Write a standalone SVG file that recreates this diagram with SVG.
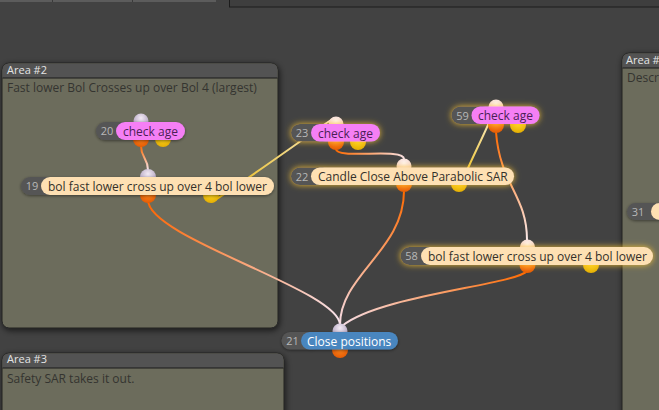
<svg xmlns="http://www.w3.org/2000/svg" width="659" height="410" viewBox="0 0 659 410">
<style>
.area-hdr{fill:#535353}
.area-body{fill:#6c6c5b;stroke:#222222;stroke-width:1}
.area-sep{stroke:#1a1a1a;stroke-width:1.2}
.atitle{font-family:"Open Sans","Noto Sans",sans-serif;font-size:11px;fill:#e4e4e4}
.adesc{font-family:"Open Sans","Noto Sans",sans-serif;font-size:12px;fill:#343430}
.idp{fill:#555555}
.num{font-family:"Open Sans","Noto Sans",sans-serif;font-size:11px;fill:#b8b8b8;text-anchor:middle}
.pink{fill:#f57ff5}
.peach{fill:#fee0b3}
.blue{fill:#4a86bf}
.t{font-family:"Open Sans","Noto Sans",sans-serif;font-size:12px;fill:#33302a}
.tp{fill:#4a1f55}
.tw{fill:#ffffff}
.in{fill:url(#gIn)}
.ins{fill:url(#gInSel)}
.out{fill:url(#gOut)}
.yel{fill:url(#gYel)}
.conn{fill:none;stroke-width:2}
</style>
<defs>
<radialGradient id="gIn" cx="0.5" cy="0.3" r="0.7"><stop offset="0" stop-color="#f2eaf4"/><stop offset="1" stop-color="#a898b8"/></radialGradient>
<radialGradient id="gInSel" cx="0.5" cy="0.3" r="0.7"><stop offset="0" stop-color="#fff4f0"/><stop offset="1" stop-color="#f0c8c0"/></radialGradient>
<radialGradient id="gOut" cx="0.5" cy="0.4" r="0.7"><stop offset="0" stop-color="#ff8a20"/><stop offset="1" stop-color="#e05400"/></radialGradient>
<radialGradient id="gYel" cx="0.5" cy="0.4" r="0.7"><stop offset="0" stop-color="#ffd820"/><stop offset="1" stop-color="#e0a800"/></radialGradient>
<filter id="areaShadow" x="-10%" y="-10%" width="120%" height="120%"><feDropShadow dx="1" dy="2" stdDeviation="3" flood-color="#000" flood-opacity="0.65"/></filter>
<filter id="glow" x="-20%" y="-120%" width="140%" height="340%"><feDropShadow dx="0" dy="0" stdDeviation="3" flood-color="#ffc830" flood-opacity="0.9"/></filter>
<filter id="nshadow" x="-20%" y="-100%" width="140%" height="300%"><feDropShadow dx="0" dy="1" stdDeviation="1.5" flood-color="#000" flood-opacity="0.45"/></filter>
<linearGradient id="c1" gradientUnits="userSpaceOnUse" x1="141" y1="146" x2="148" y2="170"><stop offset="0" stop-color="#ff6a00"/><stop offset="1" stop-color="#f4e4ec"/></linearGradient>
<linearGradient id="c2" gradientUnits="userSpaceOnUse" x1="211" y1="202" x2="334" y2="118"><stop offset="0" stop-color="#e8b400"/><stop offset="1" stop-color="#f8ecd0"/></linearGradient>
<linearGradient id="c3" gradientUnits="userSpaceOnUse" x1="148" y1="200" x2="340" y2="325"><stop offset="0" stop-color="#ff6400"/><stop offset="1" stop-color="#f6e4ee"/></linearGradient>
<linearGradient id="c4" gradientUnits="userSpaceOnUse" x1="336" y1="149" x2="404" y2="159"><stop offset="0" stop-color="#ff6a00"/><stop offset="1" stop-color="#f8e0e0"/></linearGradient>
<linearGradient id="c5" gradientUnits="userSpaceOnUse" x1="404" y1="191" x2="340" y2="325"><stop offset="0" stop-color="#ff6a00"/><stop offset="1" stop-color="#f6dce4"/></linearGradient>
<linearGradient id="c6" gradientUnits="userSpaceOnUse" x1="459" y1="190" x2="494" y2="110"><stop offset="0" stop-color="#eab800"/><stop offset="1" stop-color="#faefd8"/></linearGradient>
<linearGradient id="c7" gradientUnits="userSpaceOnUse" x1="496" y1="132" x2="527" y2="240"><stop offset="0" stop-color="#ff6a00"/><stop offset="1" stop-color="#fbeaea"/></linearGradient>
<linearGradient id="c8" gradientUnits="userSpaceOnUse" x1="527" y1="271" x2="342" y2="326"><stop offset="0" stop-color="#ff6a00"/><stop offset="1" stop-color="#f6dde4"/></linearGradient>
</defs>

<rect x="0" y="0" width="659" height="410" fill="#424242"/>

<g id="toolbar">
<rect x="0" y="-1" width="216" height="3" fill="#5c5c5c"/>
<rect x="52" y="-1" width="1" height="3" fill="#3a3a3a"/>
<rect x="132" y="-1" width="1" height="3" fill="#3a3a3a"/>
<rect x="229.5" y="-2" width="440" height="9" fill="#3e3e3e" stroke="#1c1c1c" stroke-width="1"/>
</g>

<g id="area2">
<rect class="area-body" x="2" y="63" width="276" height="265" rx="7" filter="url(#areaShadow)"/>
<path class="area-hdr" d="M2.5,78 V70 Q2.5,63.5 9,63.5 H271 Q277.5,63.5 277.5,70 V78 Z"/>
<line class="area-sep" x1="2.5" y1="78" x2="277.5" y2="78"/>
<text class="atitle" x="7" y="74">Area #2</text>
<text class="adesc" x="7" y="92">Fast lower Bol Crosses up over Bol 4 (largest)</text>
</g>

<g id="area3">
<rect class="area-body" x="2" y="353" width="282" height="80" rx="7" filter="url(#areaShadow)"/>
<path class="area-hdr" d="M2.5,368 V360 Q2.5,353.5 9,353.5 H277 Q283.5,353.5 283.5,360 V368 Z"/>
<line class="area-sep" x1="2.5" y1="368" x2="283.5" y2="368"/>
<text class="atitle" x="7" y="363">Area #3</text>
<text class="adesc" x="7" y="383">Safety SAR takes it out.</text>
</g>

<g id="area4">
<rect class="area-body" x="622" y="53" width="80" height="380" rx="7" filter="url(#areaShadow)"/>
<path class="area-hdr" d="M622.5,68 V60 Q622.5,53.5 629,53.5 H702 V68 Z"/>
<line class="area-sep" x1="622.5" y1="68" x2="702" y2="68"/>
<text class="atitle" x="626" y="64">Area #</text>
<text class="adesc" x="627" y="82">Descr</text>
</g>

<g id="connectors">
<path class="conn" stroke="url(#c1)" d="M141,146 C141,158 148,158 148,170"/>
<path class="conn" stroke="url(#c2)" d="M211,202 C225,196 318,128 334,118"/>
<path class="conn" stroke="url(#c3)" d="M148,200 C148,238 340,290 340,325"/>
<path class="conn" stroke="url(#c4)" d="M336,149 C336,160 404,147 404,159"/>
<path class="conn" stroke="url(#c5)" d="M404,191 C404,250 340,275 340,325"/>
<path class="conn" stroke="url(#c6)" d="M459,190 C463,175 492,120 494,110"/>
<path class="conn" stroke="url(#c7)" d="M496,132 C500,185 527,195 527,240"/>
<path class="conn" stroke="url(#c8)" d="M527,271 C515,285 380,295 342,326"/>
</g>

<g id="node20">
<circle class="in" cx="141" cy="121" r="7.5"/>
<circle class="out" cx="141" cy="139" r="8"/>
<circle class="yel" cx="163" cy="139" r="8"/>
<g filter="url(#nshadow)">
<rect class="idp" x="96" y="122" width="40" height="18" rx="9"/>
<rect class="pink" x="116" y="122" width="69" height="18" rx="9"/>
</g>
<text class="num" x="107" y="135">20</text>
<text class="t tp" x="123" y="135.5">check age</text>
</g>

<g id="node19">
<circle class="in" cx="148" cy="177" r="8"/>
<circle class="out" cx="148" cy="195" r="8"/>
<circle class="yel" cx="211" cy="195" r="8"/>
<g filter="url(#nshadow)">
<rect class="idp" x="21" y="177" width="40" height="18" rx="9"/>
<rect class="peach" x="41" y="177" width="233" height="18" rx="9"/>
</g>
<text class="num" x="32" y="190">19</text>
<text class="t" x="48" y="190.5">bol fast lower cross up over 4 bol lower</text>
</g>

<g id="node23">
<circle class="ins" cx="336" cy="124" r="7.5"/>
<circle class="out" cx="336" cy="142" r="8"/>
<circle class="yel" cx="358" cy="142" r="8"/>
<g filter="url(#glow)">
<rect class="idp" x="291" y="124" width="40" height="17.5" rx="8.75"/>
<rect class="pink" x="311" y="124" width="69" height="17.5" rx="8.75"/>
</g>
<text class="num" x="302" y="137">23</text>
<text class="t tp" x="318" y="137.5">check age</text>
</g>

<g id="node22">
<circle class="ins" cx="404" cy="166" r="7.5"/>
<circle class="out" cx="404" cy="184" r="8"/>
<circle class="yel" cx="459" cy="184" r="8"/>
<g filter="url(#glow)">
<rect class="idp" x="291" y="167.5" width="40" height="17.5" rx="8.75"/>
<rect class="peach" x="311" y="167.5" width="203" height="17.5" rx="8.75"/>
</g>
<text class="num" x="302" y="180.5">22</text>
<text class="t" x="318" y="181">Candle Close Above Parabolic SAR</text>
</g>

<g id="node59">
<circle class="ins" cx="496" cy="107" r="7.5"/>
<circle class="out" cx="496" cy="125" r="8"/>
<circle class="yel" cx="518" cy="125" r="8"/>
<g filter="url(#glow)">
<rect class="idp" x="451.5" y="106.5" width="40" height="17.5" rx="8.75"/>
<rect class="pink" x="471.5" y="106.5" width="68" height="17.5" rx="8.75"/>
</g>
<text class="num" x="462.5" y="119.5">59</text>
<text class="t tp" x="478" y="120">check age</text>
</g>

<g id="node58">
<circle class="ins" cx="527.5" cy="247" r="7.5"/>
<circle class="out" cx="527.5" cy="265" r="8"/>
<circle class="yel" cx="591" cy="265" r="8"/>
<g filter="url(#glow)">
<rect class="idp" x="400.5" y="247" width="40" height="18" rx="9"/>
<rect class="peach" x="421" y="247" width="232" height="18" rx="9"/>
</g>
<text class="num" x="411.5" y="260">58</text>
<text class="t" x="428" y="260.5">bol fast lower cross up over 4 bol lower</text>
</g>

<g id="node21">
<circle class="in" cx="340" cy="331" r="7.5"/>
<circle class="out" cx="340" cy="350" r="8"/>
<g filter="url(#nshadow)">
<rect class="idp" x="281.5" y="332" width="40" height="17.5" rx="8.75"/>
<rect class="blue" x="301" y="332" width="97" height="17.5" rx="8.75"/>
</g>
<text class="num" x="292.5" y="345">21</text>
<text class="t tw" x="307" y="345.5">Close positions</text>
</g>

<g id="node31">
<g filter="url(#nshadow)">
<rect class="idp" x="627" y="203" width="40" height="17" rx="8.5"/>
<rect class="peach" x="651" y="203" width="60" height="17" rx="8.5"/>
</g>
<text class="num" x="638" y="216">31</text>
</g>
</svg>
